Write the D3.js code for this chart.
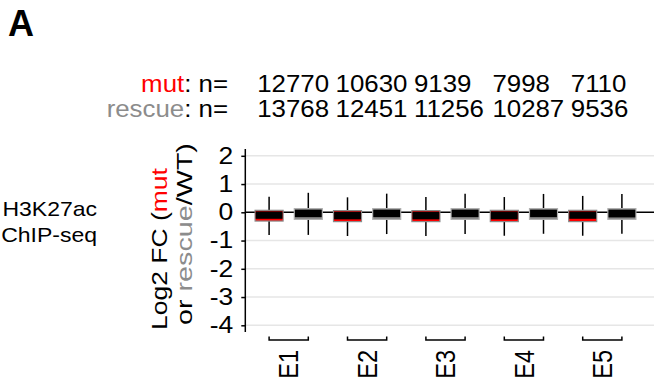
<!DOCTYPE html>
<html>
<head>
<meta charset="utf-8">
<script src="https://cdn.jsdelivr.net/npm/d3@7"></script>
<style>
  body { margin: 0; background: #fff; }
  svg { display: block; font-family: Arial, "Liberation Sans", sans-serif; }
</style>
</head>
<body>
<div class="js-chart"></div>
<script>
const groups = ["E1", "E2", "E3", "E4", "E5"];
const mutN = [12770, 10630, 9139, 7998, 7110];
const rescueN = [13768, 12451, 11256, 10287, 9536];

// box stats (log2 FC)
const mutLo = [-0.80, -0.84, -0.84, -0.83, -0.83];
const mutQ1 = [-0.31, -0.33, -0.33, -0.33, -0.33];
const mutMed = [-0.23, -0.25, -0.25, -0.25, -0.23];
const mutQ3 = [0.07, 0.06, 0.06, 0.07, 0.07];
const mutHi = [0.55, 0.53, 0.54, 0.54, 0.58];

const resLo = [-0.80, -0.77, -0.77, -0.76, -0.76];
const resQ1 = [-0.25, -0.25, -0.25, -0.25, -0.25];
const resMed = [-0.17, -0.17, -0.17, -0.17, -0.18];
const resQ3 = [0.13, 0.13, 0.13, 0.13, 0.13];
const resHi = [0.69, 0.66, 0.66, 0.65, 0.65];

const yTicks = [2, 1, 0, -1, -2, -3, -4];

const W = 654;
const H = 385;
const RED = "#ff0000";
const GREY = "#8c8c8c";
const axisX = 245.3;
const offset = 19.6;
const boxW = 28;

const svg = d3
  .select(".js-chart")
  .append("svg")
  .attr("width", W)
  .attr("height", H);

const x = d3.scalePoint().domain(groups).range([288.7, 602.3]);
const y = d3.scaleLinear().domain([-4, 2]).range([325.3, 155.8]);

const boxes = [];
groups.forEach((g, i) => {
  boxes.push({ g, kind: "mut", dx: -offset, fill: RED, stroke: "#8a8a8a",
    lo: mutLo[i], q1: mutQ1[i], med: mutMed[i], q3: mutQ3[i], hi: mutHi[i] });
  boxes.push({ g, kind: "rescue", dx: offset, fill: "#808080", stroke: "#b0b0b0",
    lo: resLo[i], q1: resQ1[i], med: resMed[i], q3: resQ3[i], hi: resHi[i] });
});

// panel letter
svg.append("text")
  .attr("x", 8)
  .attr("y", 35.7)
  .attr("font-size", 36)
  .attr("font-weight", "bold")
  .text("A");

// header n= rows
const stretch = 1.1;
const header = svg.append("g").attr("font-size", 23.5);

const row1 = header.append("text")
  .attr("text-anchor", "end")
  .attr("transform", `translate(228, 92) scale(${stretch},1)`);
row1.append("tspan").attr("fill", RED).text("mut");
row1.append("tspan").text(": n=");

const row2 = header.append("text")
  .attr("text-anchor", "end")
  .attr("transform", `translate(228, 117) scale(${stretch},1)`);
row2.append("tspan").attr("fill", GREY).text("rescue");
row2.append("tspan").text(": n=");

header.selectAll(".n-mut")
  .data(mutN)
  .enter()
  .append("text")
  .attr("class", "n-mut")
  .attr("transform", (d, i) => `translate(${x(groups[i]) - 31.5}, 92) scale(${stretch},1)`)
  .text((d) => d);

header.selectAll(".n-res")
  .data(rescueN)
  .enter()
  .append("text")
  .attr("class", "n-res")
  .attr("transform", (d, i) => `translate(${x(groups[i]) - 31.5}, 117) scale(${stretch},1)`)
  .text((d) => d);

// left label
const side = svg.append("g").attr("font-size", 20).attr("text-anchor", "end");
side.append("text")
  .attr("transform", "translate(97, 216) scale(1.15,1)")
  .text("H3K27ac");
side.append("text")
  .attr("transform", "translate(97, 241.7) scale(1.15,1)")
  .text("ChIP-seq");

// y title, two rotated lines
const t1 = svg.append("text")
  .attr("font-size", 22.5)
  .attr("transform", "translate(166.5, 330) rotate(-90)");
t1.append("tspan").text("Log2 FC (");
t1.append("tspan").attr("fill", RED).text("mut");

const t2 = svg.append("text")
  .attr("font-size", 22.5)
  .attr("transform", "translate(191.5, 325) rotate(-90)");
t2.append("tspan").text("or ");
t2.append("tspan").attr("fill", GREY).text("rescue");
t2.append("tspan").text("/WT)");

// stretch the title lines to the lengths in the picture
[[t1, 162, 166.5, 330], [t2, 182, 191.5, 325]].forEach(([t, len, tx, ty]) => {
  const s = len / t.node().getComputedTextLength();
  t.attr("transform", `translate(${tx}, ${ty}) rotate(-90) scale(${s},1)`);
});

// grid
svg.append("g")
  .selectAll("line")
  .data(yTicks)
  .enter()
  .append("line")
  .attr("x1", axisX)
  .attr("x2", W)
  .attr("y1", (d) => y(d))
  .attr("y2", (d) => y(d))
  .attr("stroke", (d) => (d === 0 ? "none" : "#e6e6e6"))
  .attr("stroke-width", 1.5);

// y axis
const yAxis = svg.append("g")
  .attr("transform", `translate(${axisX},0)`)
  .call(d3.axisLeft(y).tickValues(yTicks).tickSize(4).tickSizeOuter(0).tickFormat((d) => String(d)));

yAxis.select(".domain").remove();
yAxis.selectAll(".tick line").attr("stroke-width", 1.5);
yAxis.selectAll(".tick text")
  .attr("x", 0)
  .attr("font-size", 23)
  .attr("font-family", "Arial, 'Liberation Sans', sans-serif")
  .attr("fill", "#000")
  .attr("transform", "translate(-12,0) scale(1.15,1)");

svg.append("line")
  .attr("x1", axisX)
  .attr("x2", axisX)
  .attr("y1", 149)
  .attr("y2", 332)
  .attr("stroke", "#000")
  .attr("stroke-width", 1.5);

// zero line
svg.append("line")
  .attr("x1", axisX)
  .attr("x2", W)
  .attr("y1", y(0))
  .attr("y2", y(0))
  .attr("stroke", "#000")
  .attr("stroke-width", 1.5);

// boxes
const box = svg.append("g")
  .selectAll("g")
  .data(boxes)
  .enter()
  .append("g")
  .attr("transform", (d) => `translate(${x(d.g) + d.dx},0)`);

box.append("line")
  .attr("y1", (d) => y(d.hi))
  .attr("y2", (d) => y(d.lo))
  .attr("stroke", "#000")
  .attr("stroke-width", 1.5);

box.append("rect")
  .attr("x", -boxW / 2)
  .attr("width", boxW)
  .attr("y", (d) => y(d.q3))
  .attr("height", (d) => y(d.q1) - y(d.q3))
  .attr("fill", (d) => d.fill)
  .attr("stroke", (d) => d.stroke)
  .attr("stroke-width", 1.2);

box.append("rect")
  .attr("x", -boxW / 2 + 0.6)
  .attr("width", boxW - 1.2)
  .attr("y", (d) => y(d.q3) + 1.1)
  .attr("height", (d) => y(d.med) - y(d.q3) - 1.1)
  .attr("fill", "#000");

// group brackets and labels
const grp = svg.append("g")
  .selectAll("g")
  .data(groups)
  .enter()
  .append("g")
  .attr("transform", (d) => `translate(${x(d)},0)`);

grp.append("path")
  .attr("d", `M${-offset},336.5V340H${offset}V336.5`)
  .attr("fill", "none")
  .attr("stroke", "#000")
  .attr("stroke-width", 1.5);

grp.append("text")
  .attr("font-size", 23.5)
  .attr("text-anchor", "end")
  .attr("dy", "0.36em")
  .attr("transform", "translate(0, 350) rotate(-90) scale(1,1.15)")
  .text((d) => d);
</script>
</body>
</html>
